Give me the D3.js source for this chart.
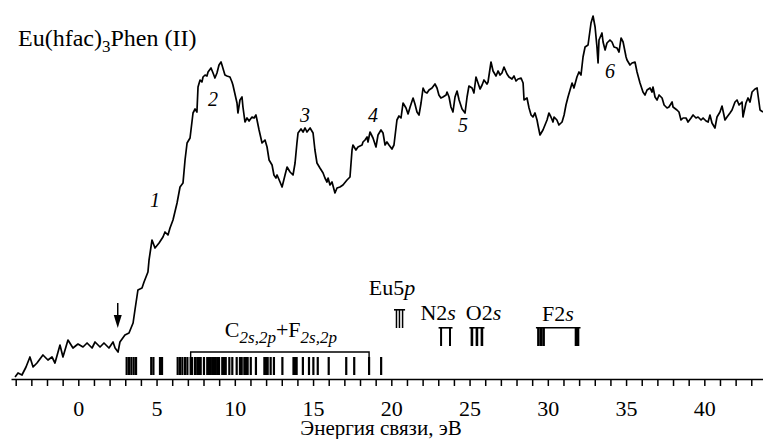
<!DOCTYPE html>
<html>
<head>
<meta charset="utf-8">
<script src="https://cdn.jsdelivr.net/npm/d3@7"></script>
<style>
  body { margin: 0; background: #fff; }
  svg { display: block; font-family: "Liberation Serif", "Times New Roman", serif; }
</style>
</head>
<body>
<div class="chart"></div>
<script>
// binding energy (eV) and intensity (arb. units)
const energy = [
  -4.04, -3.85, -3.60, -3.34, -3.09, -2.89, -2.64, -2.26, -1.94, -1.68,
  -1.49, -1.17, -0.98, -0.66, -0.34, -0.02, 0.30, 0.56, 0.88, 1.07,
  1.39, 1.64, 1.96, 2.22, 2.35, 2.54, 2.66, 2.98, 3.24, 3.50,
  3.62, 3.81, 4.07, 4.20, 4.45, 4.52, 4.71, 4.90, 5.16, 5.41,
  5.54, 5.73, 5.86, 6.05, 6.31, 6.50, 6.69, 6.82, 6.95, 7.14,
  7.33, 7.46, 7.58, 7.65, 7.78, 7.90, 7.97, 8.10, 8.22, 8.29,
  8.48, 8.61, 8.73, 8.86, 8.99, 9.12, 9.18, 9.37, 9.50, 9.69,
  9.82, 9.88, 10.14, 10.20, 10.33, 10.46, 10.52, 10.65, 10.78, 10.91,
  11.10, 11.23, 11.35, 11.42, 11.55, 11.74, 11.93, 12.06, 12.19, 12.38,
  12.50, 12.63, 12.70, 12.89, 13.02, 13.21, 13.34, 13.53, 13.72, 13.85,
  13.97, 14.04, 14.23, 14.36, 14.49, 14.61, 14.81, 15.00, 15.12, 15.25,
  15.44, 15.64, 15.76, 15.89, 15.96, 16.08, 16.21, 16.40, 16.53, 16.72,
  16.91, 17.17, 17.36, 17.49, 17.55, 17.74, 17.87, 18.13, 18.19, 18.32,
  18.45, 18.51, 18.64, 18.83, 19.02, 19.15, 19.34, 19.47, 19.60, 19.72,
  19.85, 20.04, 20.17, 20.36, 20.49, 20.62, 20.75, 20.94, 21.07, 21.20,
  21.39, 21.51, 21.64, 21.77, 21.90, 22.03, 22.15, 22.28, 22.41, 22.60,
  22.79, 22.92, 23.04, 23.17, 23.30, 23.50, 23.56, 23.69, 23.81, 23.94,
  24.07, 24.20, 24.33, 24.52, 24.71, 24.84, 24.96, 25.16, 25.28, 25.41,
  25.54, 25.67, 25.80, 25.92, 26.11, 26.18, 26.37, 26.50, 26.69, 26.82,
  26.95, 27.07, 27.20, 27.39, 27.52, 27.71, 27.84, 27.97, 28.10, 28.29,
  28.42, 28.48, 28.67, 28.80, 28.93, 29.05, 29.18, 29.31, 29.37, 29.50,
  29.69, 29.82, 29.95, 30.07, 30.20, 30.33, 30.40, 30.58, 30.71, 30.91,
  31.04, 31.16, 31.29, 31.42, 31.55, 31.67, 31.86, 31.99, 32.12, 32.25,
  32.38, 32.57, 32.76, 32.89, 33.02, 33.14, 33.21, 33.27, 33.46, 33.53,
  33.66, 33.78, 33.97, 34.10, 34.23, 34.42, 34.55, 34.68, 34.81, 35.00,
  35.06, 35.25, 35.38, 35.57, 35.70, 35.89, 36.08, 36.21, 36.34, 36.53,
  36.66, 36.72, 36.85, 36.98, 37.11, 37.30, 37.43, 37.62, 37.74, 37.94,
  38.00, 38.25, 38.38, 38.51, 38.64, 38.83, 38.96, 39.15, 39.28, 39.47,
  39.60, 39.79, 39.92, 40.11, 40.24, 40.36, 40.49, 40.68, 40.81, 41.00,
  41.13, 41.32, 41.45, 41.64, 41.77, 41.96, 42.09, 42.22, 42.41, 42.47,
  42.66, 42.79, 42.92, 43.05, 43.24, 43.37, 43.43, 43.56, 43.75
];
const intensity = [
  2, 6, 4, 12, 22, 12, 16, 24, 19, 22,
  16, 34, 22, 39, 31, 35, 32, 36, 31, 37,
  32, 36, 31, 37, 31, 27, 37, 44, 46, 56,
  69, 89, 91, 97, 107, 119, 139, 131, 136, 142,
  147, 144, 151, 159, 176, 192, 196, 219, 236, 241,
  266, 270, 267, 292, 299, 297, 302, 304, 303, 307,
  311, 306, 301, 306, 314, 317, 314, 304, 303, 302,
  297, 294, 276, 266, 279, 282, 272, 257, 261, 258,
  262, 261, 264, 259, 249, 236, 239, 232, 219, 214,
  204, 201, 204, 197, 192, 204, 212, 207, 204, 216,
  236, 246, 250, 247, 251, 247, 251, 246, 229, 216,
  211, 206, 201, 197, 201, 194, 197, 186, 191, 192,
  194, 199, 202, 229, 234, 229, 232, 234, 237, 239,
  242, 237, 247, 241, 232, 244, 249, 246, 234, 237,
  234, 230, 234, 259, 263, 261, 276, 271, 265, 272,
  281, 275, 267, 264, 276, 291, 287, 286, 289, 291,
  295, 291, 284, 281, 282, 284, 287, 282, 272, 267,
  282, 288, 279, 270, 266, 282, 293, 291, 286, 302,
  296, 290, 294, 299, 295, 297, 317, 308, 303, 308,
  304, 306, 312, 305, 302, 300, 303, 298, 300, 301,
  296, 279, 281, 271, 264, 262, 266, 259, 254, 244,
  249, 254, 259, 266, 262, 257, 262, 259, 254, 257,
  264, 274, 282, 289, 296, 291, 302, 307, 304, 322,
  332, 334, 356, 363, 352, 332, 316, 339, 346, 337,
  329, 336, 339, 337, 332, 331, 327, 341, 337, 322,
  319, 314, 316, 317, 307, 296, 287, 284, 289, 291,
  287, 292, 282, 279, 284, 281, 274, 271, 272, 277,
  272, 269, 267, 259, 261, 261, 257, 261, 264, 261,
  262, 259, 261, 258, 257, 264, 256, 251, 262, 267,
  273, 259, 262, 266, 269, 277, 279, 274, 277, 262,
  276, 281, 277, 287, 290, 291, 284, 269, 267
];

// calculated level energies (eV)
const levelsCF = [
  3.09, 3.24, 3.39, 3.54, 3.69, 4.66, 4.80, 5.22, 5.35,
  6.35, 6.50, 6.65, 6.82, 6.97, 7.18, 7.27, 7.46, 7.60, 7.71, 7.82,
  8.03, 8.24, 8.35, 8.46, 8.56, 8.67, 8.78, 8.88, 8.99, 9.20, 9.31, 9.42,
  9.65, 9.84, 10.12, 10.33, 10.44, 10.61, 10.72, 10.82, 11.02, 11.35,
  11.89, 12.00, 12.10, 12.29, 12.50, 13.04, 13.75, 13.85, 13.95, 14.35,
  14.74, 15.02, 15.30, 16.00, 17.12, 17.63, 18.58, 19.35
];
const bracketCF = [7.18, 18.58];
const levelsEu5p = [20.33, 20.52, 20.72];
const levelsN2s = [23.18, 23.75];
const levelsO2s = [25.15, 25.47, 25.79];
const levelsF2s = [29.40, 29.57, 29.73, 31.80, 31.93];
const groupLabelE = [20.05, 22.99, 25.89, 30.65];

const peakLabels = ["1", "2", "3", "4", "5", "6"];
const peakE = [4.90, 8.60, 14.49, 18.83, 24.58, 33.97];
const peakI = [172, 273, 257, 257, 247, 301];
const onsetE = 2.52;

const xTicks = d3.range(-4, 44);
const xLabels = [0, 5, 10, 15, 20, 25, 30, 35, 40];

const w = 763;
const h = 439;
const axisY = 379;
const font = "'Liberation Serif', 'Times New Roman', serif";

const svg = d3
  .select(".chart")
  .append("svg")
  .attr("width", w)
  .attr("height", h);

const x = d3.scaleLinear().domain([-4.3, 43.8]).range([11.0, 763.8]);
const y = d3.scaleLinear().domain([0, 379]).range([axisY, 0]);

// spectrum
const pts = energy.map((e, i) => [e, intensity[i]]);
svg
  .append("path")
  .datum(pts)
  .attr("fill", "none")
  .attr("stroke", "#000")
  .attr("stroke-width", 1.7)
  .attr("stroke-linejoin", "round")
  .attr("d", d3.line().x((d) => x(d[0])).y((d) => y(d[1])));

// x axis
const xAxis = d3
  .axisBottom(x)
  .tickValues(xTicks)
  .tickSize(7)
  .tickSizeOuter(0)
  .tickFormat((d) => (xLabels.includes(d) ? d : ""));

const gx = svg
  .append("g")
  .attr("transform", `translate(0,${axisY})`)
  .call(xAxis);
gx.select(".domain").attr("stroke-width", 1.5);
gx.selectAll(".tick line").attr("stroke-width", 1.5);
gx.selectAll(".tick text")
  .attr("y", 21)
  .attr("fill", "#000")
  .style("font-family", font)
  .style("font-size", "22px");

svg
  .append("text")
  .attr("x", 381)
  .attr("y", 435)
  .attr("text-anchor", "middle")
  .style("font-size", "21px")
  .text("Энергия связи, эВ");

// title
const title = svg
  .append("text")
  .attr("x", 18)
  .attr("y", 46)
  .style("font-size", "24px");
title.append("tspan").text("Eu(hfac)");
title.append("tspan").attr("dy", 6).style("font-size", "17px").text("3");
title.append("tspan").attr("dy", -6).text("Phen (II)");

// peak numbers
svg
  .selectAll("text.peak")
  .data(peakLabels)
  .enter()
  .append("text")
  .attr("class", "peak")
  .attr("x", (d, i) => x(peakE[i]))
  .attr("y", (d, i) => y(peakI[i]))
  .attr("text-anchor", "middle")
  .style("font-size", "20px")
  .style("font-style", "italic")
  .text((d) => d);

// onset arrow
const ax = x(onsetE);
svg
  .append("line")
  .attr("x1", ax)
  .attr("x2", ax)
  .attr("y1", 303)
  .attr("y2", 318)
  .attr("stroke", "#000")
  .attr("stroke-width", 1.5);
svg
  .append("path")
  .attr("d", `M${ax - 4},315 L${ax + 4},315 L${ax},328 Z`)
  .attr("fill", "#000");

// C2s,2p + F2s,2p levels
const barW = 2.2;
svg
  .selectAll("rect.cf")
  .data(levelsCF)
  .enter()
  .append("rect")
  .attr("class", "cf")
  .attr("x", (d) => x(d) - barW / 2)
  .attr("y", 357)
  .attr("width", barW)
  .attr("height", 18)
  .attr("fill", "#000");

const b0 = x(bracketCF[0]);
const b1 = x(bracketCF[1]);
svg
  .append("path")
  .attr("d", `M${b0},358 L${b0},352 L${b1},352 L${b1},358`)
  .attr("fill", "none")
  .attr("stroke", "#000")
  .attr("stroke-width", 1.4);

const cf = svg
  .append("text")
  .attr("x", (b0 + b1) / 2 + 1)
  .attr("y", 337)
  .attr("text-anchor", "middle")
  .style("font-size", "22px");
cf.append("tspan").text("C");
cf.append("tspan").attr("dy", 6).style("font-size", "17px").style("font-style", "italic").text("2s,2p");
cf.append("tspan").attr("dy", -6).text("+F");
cf.append("tspan").attr("dy", 6).style("font-size", "17px").style("font-style", "italic").text("2s,2p");

// atomic levels with caps
function levelGroup(vals, top, bottom, bw) {
  const g = svg.append("g");
  g.selectAll("rect")
    .data(vals)
    .enter()
    .append("rect")
    .attr("x", (d) => x(d) - bw / 2)
    .attr("y", top)
    .attr("width", bw)
    .attr("height", bottom - top)
    .attr("fill", "#000");
  g.append("line")
    .attr("x1", x(d3.min(vals)) - 2.5)
    .attr("x2", x(d3.max(vals)) + 2.5)
    .attr("y1", top + 0.8)
    .attr("y2", top + 0.8)
    .attr("stroke", "#000")
    .attr("stroke-width", 1.6);
}
levelGroup(levelsEu5p, 309, 328, 1.5);
levelGroup(levelsN2s, 327, 346, 2.0);
levelGroup(levelsO2s, 327, 346, 2.6);
levelGroup(levelsF2s, 327, 346, 2.6);

const groupNames = [["Eu5", "p"], ["N2", "s"], ["O2", "s"], ["F2", "s"]];
const groupY = [295, 320, 320, 321];
groupNames.forEach((n, i) => {
  const t = svg
    .append("text")
    .attr("x", x(groupLabelE[i]))
    .attr("y", groupY[i])
    .attr("text-anchor", "middle")
    .style("font-size", "22px");
  t.append("tspan").text(n[0]);
  t.append("tspan").style("font-style", "italic").text(n[1]);
});
</script>
</body>
</html>
